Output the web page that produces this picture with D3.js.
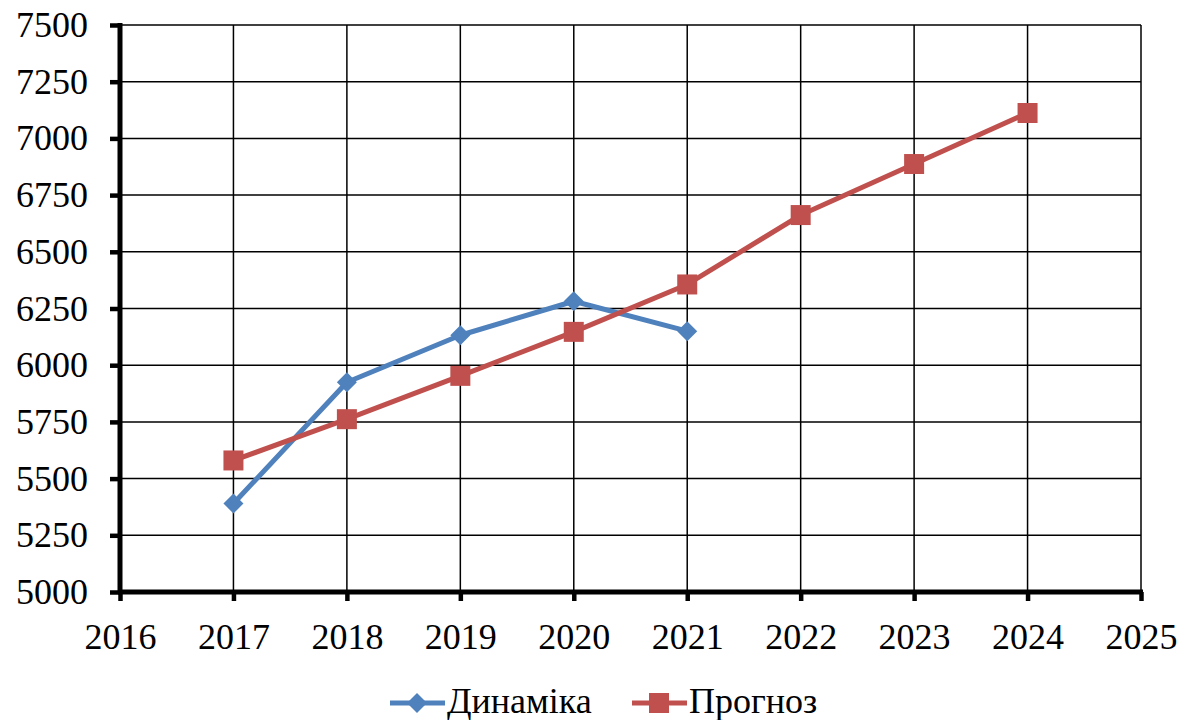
<!DOCTYPE html>
<html>
<head>
<meta charset="utf-8">
<script src="https://cdn.jsdelivr.net/npm/d3@7"></script>
<style>
	body { margin: 0; background: #fff; }
	svg { display: block; }
</style>
</head>
<body>
<svg width="1189" height="720"></svg>
<script>
"use strict";

var years = [2017, 2018, 2019, 2020, 2021, 2022, 2023, 2024];
var dynamics = [5390, 5925, 6132, 6282, 6150];
var forecast = [5580, 5762, 5953, 6147, 6356, 6662, 6887, 7112];
var xTicks = [2016, 2017, 2018, 2019, 2020, 2021, 2022, 2023, 2024, 2025];
var yTicks = [5000, 5250, 5500, 5750, 6000, 6250, 6500, 6750, 7000, 7250, 7500];
var seriesNames = ["Динаміка", "Прогноз"];

var blue = "#4f81bd";
var red = "#c0504d";
var fontStack = "'Liberation Serif', 'DejaVu Serif'";

var svg = d3.select('svg');
var plotLeft = 120, plotRight = 1141, plotTop = 25, plotBottom = 592;

var x = d3.scaleLinear().domain([2016, 2025]).range([plotLeft, plotRight]);
var y = d3.scaleLinear().domain([5000, 7500]).range([plotBottom, plotTop]);

// grid
svg.append('g').selectAll('line').data(yTicks.slice(1)).enter().append('line')
	.attr('x1', plotLeft).attr('x2', plotRight)
	.attr('y1', function(d) {return y(d)}).attr('y2', function(d) {return y(d)})
	.attr('stroke', '#000').attr('stroke-width', 1.5);
svg.append('g').selectAll('line').data(xTicks.slice(1)).enter().append('line')
	.attr('x1', function(d) {return x(d)}).attr('x2', function(d) {return x(d)})
	.attr('y1', plotTop).attr('y2', plotBottom)
	.attr('stroke', '#000').attr('stroke-width', 1.5);

// axes
var xAxis = svg.append('g').attr('transform', 'translate(0,' + plotBottom + ')')
	.call(d3.axisBottom(x).tickValues(xTicks).tickFormat(d3.format('d')).tickSize(9).tickPadding(22));
var yAxis = svg.append('g').attr('transform', 'translate(' + plotLeft + ',0)')
	.call(d3.axisLeft(y).tickValues(yTicks).tickFormat(d3.format('d')).tickSize(10).tickPadding(22));

[xAxis, yAxis].forEach(function(ax) {
	ax.attr('font-family', fontStack).attr('font-size', 36);
	ax.select('.domain').attr('stroke', '#000').attr('stroke-width', 5);
	ax.selectAll('.tick line').attr('stroke', '#000').attr('stroke-width', 4.5);
	ax.selectAll('text').attr('fill', '#000');
});
xAxis.select('.domain').attr('d', 'M' + (plotLeft - 2) + ',0H' + (plotRight + 2));
yAxis.select('.domain').attr('d', 'M0,' + (plotTop - 2) + 'V' + (plotBottom + 2));
xAxis.selectAll('text').attr('dy', '0.71em').attr('y', 31);

var line = d3.line()
	.x(function(d) {return x(d.year)})
	.y(function(d) {return y(d.value)});

var diamond = d3.symbol().type(d3.symbolSquare).size(200);
var square = d3.symbol().type(d3.symbolSquare).size(400);

function drawSeries(values, color, isDiamond) {
	var pts = values.map(function(v, i) {return {year: years[i], value: v}});
	svg.append('path').datum(pts)
		.attr('d', line).attr('fill', 'none')
		.attr('stroke', color).attr('stroke-width', 5).attr('stroke-linejoin', 'round');
	svg.append('g').selectAll('path').data(pts).enter().append('path')
		.attr('d', isDiamond ? diamond() : square())
		.attr('transform', function(d) {
			return 'translate(' + x(d.year) + ',' + y(d.value) + ')' + (isDiamond ? ' rotate(45)' : '');
		})
		.attr('fill', color);
}

drawSeries(dynamics, blue, true);
drawSeries(forecast, red, false);

// legend
var legend = [
	{name: seriesNames[0], color: blue, diamond: true, x0: 390},
	{name: seriesNames[1], color: red, diamond: false, x0: 632}
];
var lg = svg.append('g').attr('font-family', fontStack).attr('font-size', 36)
	.selectAll('g').data(legend).enter().append('g')
	.attr('transform', function(d) {return 'translate(' + d.x0 + ',703)'});
lg.append('line').attr('x1', 0).attr('x2', 55).attr('y1', 0).attr('y2', 0)
	.attr('stroke', function(d) {return d.color}).attr('stroke-width', 5);
lg.append('path')
	.attr('d', function(d) {return d.diamond ? diamond() : square()})
	.attr('transform', function(d) {return 'translate(27,0)' + (d.diamond ? ' rotate(45)' : '')})
	.attr('fill', function(d) {return d.color});
lg.append('text').attr('x', 57).attr('y', 10).attr('fill', '#000')
	.text(function(d) {return d.name});
</script>
</body>
</html>
